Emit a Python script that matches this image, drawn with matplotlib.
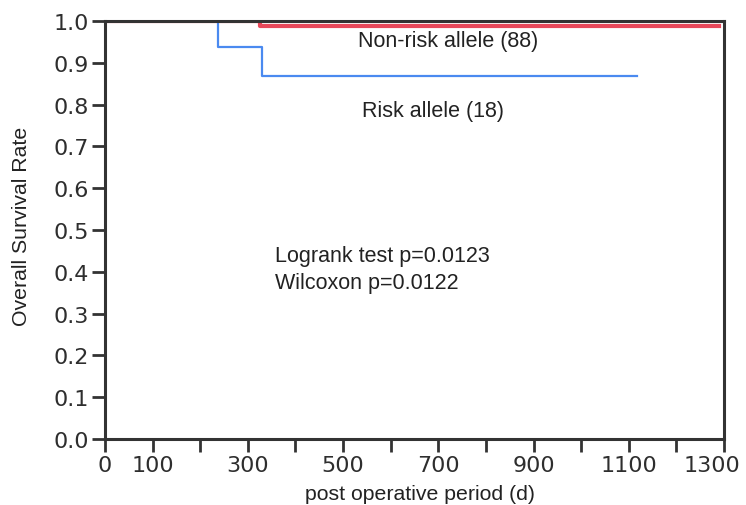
import matplotlib
matplotlib.use("Agg")
import matplotlib.pyplot as plt
import matplotlib.transforms as mtransforms

# Kaplan-Meier step data (days, survival)
risk_t = [0, 237, 329, 1117]
risk_s = [1.0, 0.9375, 0.869, 0.869]
nonrisk_t = [0, 325, 1290]
nonrisk_s = [1.0, 0.989, 0.989]

xticks = [0, 100, 200, 300, 400, 500, 600, 700, 800, 900, 1000, 1100, 1200, 1300]
xticklabels = ["0", "100", "", "300", "", "500", "", "700", "", "900", "", "1100", "", "1300"]
yticks = [0.0, 0.1, 0.2, 0.3, 0.4, 0.5, 0.6, 0.7, 0.8, 0.9, 1.0]

fig = plt.figure(figsize=(7.46, 5.06), dpi=100)
ax = fig.add_axes([105/746, 1-440/506, (724-105)/746, (440-22)/506])

ax.step(nonrisk_t, nonrisk_s, where="post", color="#e8485a", lw=3, zorder=3)
ax.step(risk_t, risk_s, where="post", color="#4a8af0", lw=1.6, zorder=3)

ax.set_xlim(0, 1300)
ax.set_ylim(0, 1.0)
ax.set_xticks(xticks)
ax.set_xticklabels(xticklabels)
ax.set_yticks(yticks)
ax.set_yticklabels([f"{v:.1f}" for v in yticks])

for s in ax.spines.values():
    s.set_linewidth(2.2)
    s.set_color("#333333")
    s.set_zorder(4)
ax.tick_params(direction="out", length=9.5, width=2, color="#333333",
               labelsize=16, labelcolor="#2e2e2e", pad=2)

# shift the last x label left so it stays inside the figure
last = ax.get_xticklabels()[-1]
last.set_transform(last.get_transform() +
                   mtransforms.ScaledTranslation(-12/100, 0, fig.dpi_scale_trans))

tf = dict(family="Liberation Sans", fontsize=15.5, color="#222222")
fig.text(358/746, 1-42/506, "Non-risk allele (88)", va="center", ha="left", **tf)
fig.text(362/746, 1-111/506, "Risk allele (18)", va="center", ha="left", **tf)
fig.text(275/746, 1-257/506, "Logrank test p=0.0123", va="center", ha="left", **tf)
fig.text(275/746, 1-284/506, "Wilcoxon p=0.0122", va="center", ha="left", **tf)

fig.text(22/746, 1-226/506, "Overall Survival Rate", rotation=90, va="center", ha="center",
         family="Liberation Sans", fontsize=15.3, color="#222222")
fig.text(420/746, 1-495/506, "post operative period (d)", va="center", ha="center",
         family="Liberation Sans", fontsize=15.3, color="#222222")

fig.savefig("out.png", dpi=100)
